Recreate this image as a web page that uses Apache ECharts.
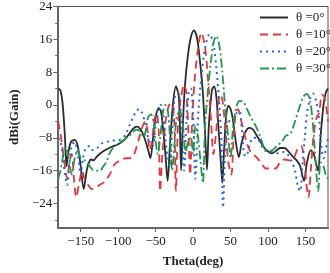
<!DOCTYPE html>
<html>
<head>
<meta charset="utf-8">
<script src="https://cdn.jsdelivr.net/npm/echarts@6/dist/echarts.min.js"></script>
<style>
  html, body { margin: 0; padding: 0; background: #fff; }
  #chart { width: 330px; height: 273px; }
</style>
</head>
<body>
<div id="chart"></div>
<script>
// theta = 0 deg
var blackDeg = [-180,-177,-174,-171,-169,-167,-163,-158,-154,-150,-146,-142,-139,-136,-133,-128,-120,-110,-100,-92,-85,-80,-75,-70,-65,-60,-57,-54,-50,-46,-43,-40,-37,-34,-31,-27,-23,-19,-16,-14,-11,-7,-3,1,5,9,13,16,18.5,21,25,28,31,34,37,39,41,44,47,50,53,57,61,65,70,75,80,85,90,95,100,105,110,116,122,128,134,139,143,148,152,157,161,165,167,170,174,177,180];
var blackGain = [4,3.5,0,-8,-15,-12,-9,-8.5,-10,-15,-20.5,-16,-14,-13.3,-13.5,-12.5,-11.3,-10.3,-9.6,-8.5,-7,-5.8,-5.3,-6,-8,-11,-13,-9,-3,-0.8,-1.5,-6,-12,-18.5,-10,0,4.5,2,-16,-6,4.5,12,16.5,18.2,16.5,11,3,-7,-15.8,-5,3.5,4.5,2,-6,-14,-19,-12,-3,-0.2,-1,-3.5,-9,-12.7,-9,-6.5,-5.6,-6,-7.5,-9,-10.5,-11.3,-11.8,-11.3,-10.5,-10.5,-11.5,-12.8,-13.7,-15,-18.5,-14,-11,-12,-15,-16,-8,0,3,4];

// theta = 10 deg
var redDeg = [-180,-177,-174,-171,-168,-165,-162,-159,-156,-152,-148,-145,-140,-135,-130,-125,-120,-115,-110,-105,-100,-95,-90,-85,-80,-75,-72,-68,-64,-61,-58,-55,-52,-49,-46,-44,-41,-36,-32,-28,-25,-23,-20,-16,-12,-9,-6,-4,-1,2,6,11,16,20,24,27,31,34,37,40,44,47,51,54,57,60,63,67,72,77,83,88,92,97,103,110,116,122,128,134,140,144,148,151,154,157,161,165,168,172,175,178,180];
var redGain = [-4,-7,-11,-15,-18,-14,-12,-18,-22.5,-19,-16,-18,-19.5,-20.5,-20.3,-19.5,-19,-18,-16.5,-14.5,-13.8,-13.3,-13,-13,-12.5,-10,-8,-5.5,-4,-6,-11,-9,-4,-2,-6,-21,-12,-3,0,0.5,-5,-21,-4,2,5,3,-8,-17,-3,6,13,17.6,14,6,-4,-12,-6,1,2.5,0,-8,-14,-17,-8,-2,-1,-3,-6,-9.5,-11.5,-12.5,-13.5,-14.5,-15.5,-15.5,-15.5,-14,-13.3,-13.5,-13,-10.5,-10,-13,-19,-22.5,-16,-7,-3,-2,2.5,2,-1,-4];

// theta = 20 deg
var blueDeg = [-180,-177,-174,-171,-168,-165,-162,-158,-154,-150,-147,-143,-138,-134,-128,-122,-115,-108,-100,-95,-90,-85,-80,-76,-72,-68,-64,-60,-57,-54,-50,-46,-43,-40,-37,-34,-31,-28,-24,-20,-16,-12,-9,-6,-3,0,3,7,11,16,22,27,31,35,38,40,43,47,51,54,58,62,65,68,71,75,80,85,90,95,100,107,113,120,126,132,136,140,143,146,149,152,156,160,164,168,171,174,177,180];
var blueGain = [-8,-9,-12,-17,-19.5,-14,-10,-9,-12,-17,-13,-10.5,-10,-11,-10.5,-9.4,-9,-8.7,-8.6,-8.2,-7.2,-5,-3,-1.5,-1,-2,-4.5,-8,-9.5,-10,-5,-1,0,-2,-8,-13,-15,-6,2.5,3,-3,-16,-4,3,4,-3,-18,-2,7,14,17.3,15,9,0,-10,-25,-10,-4,-4,-3,-2,-1.5,-6,-12,-12.5,-10,-8,-8,-9.5,-11,-11.3,-11.5,-11.8,-11.5,-12,-14,-16,-20,-21,-14,-8,-2,1.5,2.8,1,-3,-10,-13,-11,-8];

// theta = 30 deg
var greenDeg = [-180,-177,-174,-170,-166,-162,-158,-154,-150,-145,-140,-134,-128,-124,-120,-116,-112,-107,-102,-96,-90,-85,-80,-75,-70,-66,-63,-60,-56,-53,-50,-47,-44,-40,-37,-34,-31,-28,-25,-22,-18,-14,-10,-7,-3,0,3,6,10,13,16,20,24,27,31,35,39,43,47,50,53,57,62,67,72,77,84,90,95,100,106,112,118,124,130,136,142,147,152,156,159,162,165,167,170,174,177,180];
var greenGain = [-18,-16,-13,-10.5,-13,-17,-13,-11,-13,-13.5,-14.5,-15.8,-16,-16,-15,-14,-12,-10.5,-9.8,-8.9,-8.2,-7.5,-6.5,-6,-6.5,-8,-6,-3,-2.3,-4,-9,-12,-8,-1.5,0,-1,-7.5,-16,-10,-3,-1.5,-4,-12,-9,-8,-12,-5,-7,-14,-19,-5,4,11,15,16.8,14.5,8,-1,-8,-13,-6,-1,1,0.8,-1,-3,-5.3,-8,-10.5,-11.5,-11,-10,-9,-7.5,-7,-4,-0.5,2,2.7,1,-3,-10,-18,-21,-14,-15,-17,-18];

var names = ['θ =0°', 'θ =10°', 'θ =20°', 'θ =30°'];
var xTicks = [-150, -100, -50, 0, 50, 100, 150];
var yTicks = [-24, -16, -8, 0, 8, 16, 24];
var yMinor = [-28, -20, -12, -4, 4, 12, 20];

function pairs(xs, ys) {
    var out = [];
    for (var i = 0; i < xs.length; i++) {
        out.push([xs[i], ys[i]]);
    }
    return out;
}

function minus(v) {
    return v < 0 ? '\u2212' + (-v) : String(v);
}

var serif = '"Liberation Serif", "DejaVu Serif", serif';
var chart = echarts.init(document.getElementById('chart'));

function line(name, xs, ys, color, type, width) {
    return {
        name: name,
        type: 'line',
        data: pairs(xs, ys),
        showSymbol: false,
        symbol: 'none',
        smooth: 0.3,
        lineStyle: {color: color, width: width, type: type},
        itemStyle: {color: color}
    };
}

chart.setOption({
    backgroundColor: '#fff',
    animation: false,
    grid: {
        left: 47, right: 2, top: 5, bottom: 43,
        show: true,
        borderColor: '#555',
        borderWidth: 1
    },
    legend: {
        orient: 'vertical',
        left: 254,
        top: 6,
        itemWidth: 28,
        itemHeight: 10,
        itemGap: 4,
        data: names,
        itemStyle: {opacity: 0},
        textStyle: {fontFamily: serif, fontSize: 13, color: '#222', padding: [0, 0, 0, 3]}
    },
    xAxis: {
        type: 'value',
        min: -180,
        max: 180,
        name: 'Theta(deg)',
        nameLocation: 'middle',
        nameGap: 27,
        nameTextStyle: {fontFamily: serif, fontSize: 13, fontWeight: 'bold', color: '#222'},
        axisLine: {show: true, onZero: false, lineStyle: {color: '#666', width: 2}},
        axisTick: {show: true, length: 4, customValues: xTicks, lineStyle: {color: '#666'}},
        axisLabel: {customValues: xTicks, formatter: minus, fontFamily: serif, fontSize: 13, color: '#222', margin: 7},
        splitLine: {show: false}
    },
    yAxis: [{
        type: 'value',
        min: -30,
        max: 24,
        position: 'left',
        name: 'dBi(Gain)',
        nameLocation: 'middle',
        nameGap: 33,
        nameTextStyle: {fontFamily: serif, fontSize: 13, fontWeight: 'bold', color: '#222'},
        axisLine: {show: true, onZero: false, lineStyle: {color: '#666', width: 2}},
        axisTick: {show: true, length: 5, customValues: yTicks, lineStyle: {color: '#666'}},
        axisLabel: {customValues: yTicks, formatter: minus, fontFamily: serif, fontSize: 13, color: '#222', margin: 6},
        splitLine: {show: false}
    }, {
        type: 'value',
        min: -30,
        max: 24,
        position: 'left',
        axisLine: {show: false, onZero: false},
        axisTick: {show: true, length: 3, customValues: yMinor, lineStyle: {color: '#666'}},
        axisLabel: {show: false},
        splitLine: {show: false}
    }],
    series: [
        line(names[0], blackDeg, blackGain, '#2b2b2b', 'solid', 1.8),
        line(names[1], redDeg, redGain, '#e8353b', [8, 5], 1.8),
        line(names[2], blueDeg, blueGain, '#2166e0', [2, 4], 2),
        line(names[3], greenDeg, greenGain, '#1f9a4b', [9, 3, 2, 3], 1.8)
    ]
});
</script>
</body>
</html>
